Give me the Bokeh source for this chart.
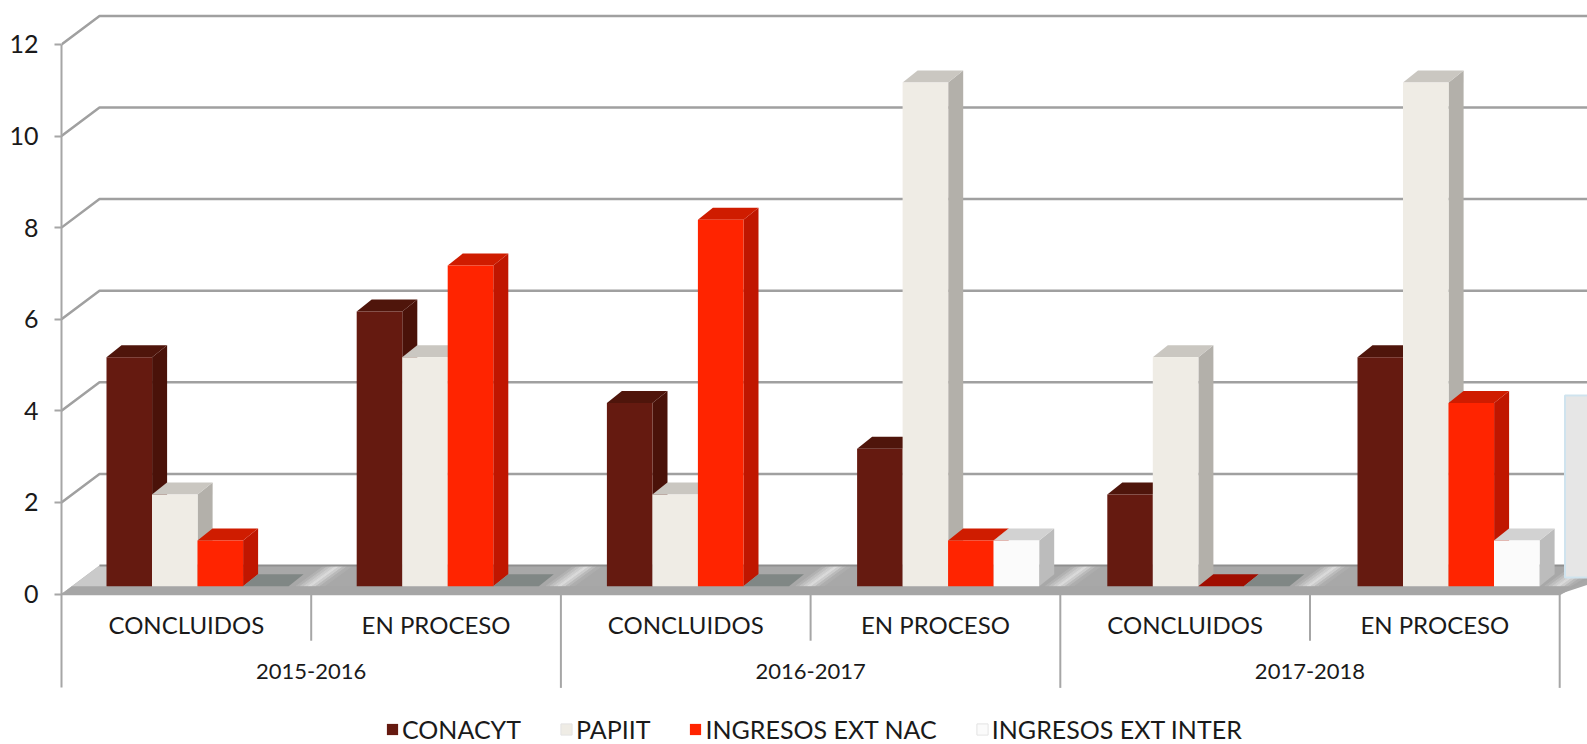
from bokeh.plotting import figure
from bokeh.models import Range1d, LinearAxis, FixedTicker, Legend, LegendItem
from bokeh.core.properties import value
from bokeh.embed import file_html
from bokeh.resources import INLINE

# ---------- data ----------
years = ["2015-2016", "2016-2017", "2017-2018"]
statuses = ["CONCLUIDOS", "EN PROCESO", "CONCLUIDOS", "EN PROCESO", "CONCLUIDOS", "EN PROCESO"]
conacyt = [5, 6, 4, 3, 2, 5]
papiit = [2, 5, 2, 11, 5, 11]
ingresos_nac = [1, 7, 8, 1, 0, 4]
ingresos_inter = [0, 0, 0, 1, 0, 1]
y_ticks = [0, 2, 4, 6, 8, 10, 12]

series_names = ["CONACYT", "PAPIIT", "INGRESOS EXT NAC", "INGRESOS EXT INTER"]
series_values = [conacyt, papiit, ingresos_nac, ingresos_inter]
front = ["#651a10", "#efece5", "#ff2400", "#fbfbfb"]
side = ["#4a1209", "#b3b0aa", "#c01600", "#bcbcbc"]
top = ["#4f150b", "#cac7c1", "#cf1c00", "#d2d2d2"]
flat = ["#4f150b", "#8c8c8c", "#a00d00", "#808785"]
shine = ["#b2b2b2", "#c0c0c0", "#cdcdcd", "#dadada", "#cccccc", "#bababa", "#aeaeae"]

# ---------- geometry: one x unit = one category slot, one y unit = one chart unit ----------
W, H = 1587, 744
LEFT, ZERO = 61, 593.5
PX_X, PX_Y = 249.7, 45.8
FONT = value("Lato")
dx, dy = 38 / PX_X, 28.5 / PX_Y          # wall depth
bdx, bdy = 15 / PX_X, 12 / PX_Y          # bar depth
base = 7.8 / PX_Y                        # bars stand a little behind the floor's front edge
bar_w = 45.6 / PX_X
bar_off = 45.5 / PX_X
bar_pitch = 250.2 / PX_X
WALL_END = 6.5
base_x = dx * base / dy                  # floor's left edge at the height of the bars' feet

p = figure(width=W, height=H, output_backend="svg", toolbar_location=None,
           x_range=Range1d(0, (W - LEFT) / PX_X),
           y_range=Range1d((ZERO - H) / PX_Y, ZERO / PX_Y),
           x_axis_type=None, y_axis_type=None,
           min_border_left=LEFT, min_border_right=0, min_border_top=0, min_border_bottom=0)
p.grid.visible = False
p.outline_line_color = None

axis = LinearAxis(ticker=FixedTicker(ticks=y_ticks), bounds=(-2.05, 12))
axis.axis_line_color = "#a6a6a6"
axis.axis_line_width = 2
axis.major_tick_line_color = "#a6a6a6"
axis.major_tick_line_width = 2
axis.major_tick_in = 0
axis.major_tick_out = 7
axis.minor_tick_line_color = None
axis.major_label_standoff = 16
axis.major_label_text_font = "Lato"
axis.major_label_text_font_size = "25px"
axis.major_label_text_color = "#1a1a1a"
p.add_layout(axis, "left")

# wall gridlines
for v in y_ticks[1:]:
    p.line([0, dx, WALL_END], [v, v + dy, v + dy], line_color="#a0a0a0", line_width=2.5)

# floor with its shine at every slot boundary
p.patch([0, dx, 6.35, 6.0], [0, dy, dy, 0], fill_color="#a8a8a8", line_color=None)
p.patch([0, dx, dx + 10 / PX_X, 45 / PX_X], [0, dy, dy, 0], fill_color="#cacaca", line_color=None)
strip = 4 / PX_X
for i in range(1, 7):
    for k, col in enumerate(shine):
        xa = i - 15 / PX_X + k * strip
        p.patch([xa, xa + dx * 0.75, xa + strip + dx * 0.75, xa + strip], [base, dy, dy, base],
                fill_color=col, line_color=col, line_width=1)
p.patch([0, 6.0, 6.0 + base_x, base_x], [0, 0, base, base], fill_color="#a6a6a6", line_color=None)
p.line([dx, 6.35], [dy, dy], line_color="#8f8f8f", line_width=2)
p.line([0, 6.0, 6.16], [0, 0, dy * 0.8], line_color="#a6a6a6", line_width=2.5)

# bars
for slot in range(6):
    for s, vals in enumerate(series_values):
        v = vals[slot]
        x0 = slot * bar_pitch + 45 / PX_X + s * bar_off
        x1 = x0 + bar_w
        t = base + v
        if v == 0:
            p.patch([x0, x0 + bdx, x1 + bdx, x1], [base, base + bdy, base + bdy, base],
                    fill_color=flat[s], line_color=None)
            continue
        p.patch([x1, x1 + bdx, x1 + bdx, x1], [base, base + bdy, t + bdy, t],
                fill_color=side[s], line_color=None)
        p.patch([x0, x0 + bdx, x1 + bdx, x1], [t, t + bdy, t + bdy, t],
                fill_color=top[s], line_color=None)
        p.quad(left=x0, right=x1, bottom=base, top=t, fill_color=front[s], line_color=None)

# separators of the two category levels
for i in range(1, 7):
    low = -2.05 if i % 2 == 0 else -1.02
    p.line([i, i], [0, low], line_color="#a6a6a6", line_width=2)

# category labels
p.text(x=[i + 0.5 for i in range(6)], y=[-0.67] * 6, text=statuses, text_font=FONT,
       text_font_size="24px", text_color="#1a1a1a", text_align="center", text_baseline="middle")
p.text(x=[i * 2 + 1 for i in range(3)], y=[-1.70] * 3, text=years, text_font=FONT,
       text_font_size="22px", text_color="#1a1a1a", text_align="center", text_baseline="middle")

# side box that the source picture cuts off at its right edge
p.quad(left=(1564.5 - LEFT) / PX_X, right=6.5, bottom=(ZERO - 577) / PX_Y, top=(ZERO - 395) / PX_Y,
       fill_color="#e6e6e6", line_color="#cfe3ee", line_width=2)

# legend
items = []
for s, name in enumerate(series_names):
    r = p.quad(left=[0], right=[0], bottom=[0], top=[0], fill_color=front[s],
               line_color="#e4e4e4" if s % 2 else None)
    items.append(LegendItem(label=name, renderers=[r]))
legend = Legend(items=items, orientation="horizontal", location=(324, 0),
                background_fill_alpha=0, border_line_color=None,
                glyph_width=14, glyph_height=14, label_standoff=3, spacing=38,
                padding=0, margin=0, label_text_font="Lato", label_text_font_size="25px",
                label_text_color="#1a1a1a")
p.add_layout(legend, "center")

open("out.html", "w").write(file_html(p, INLINE))
